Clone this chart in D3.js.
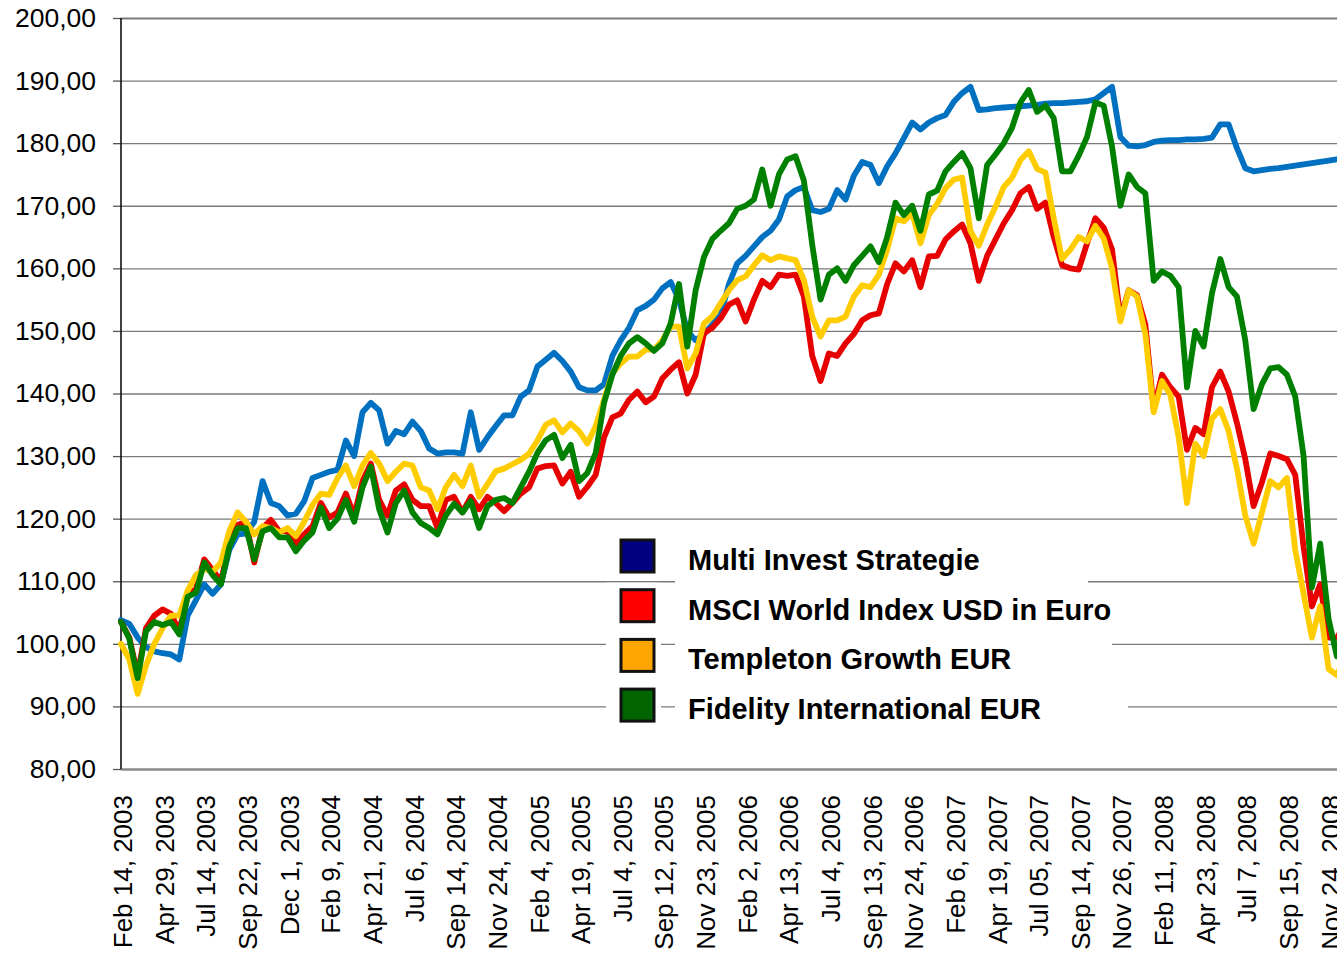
<!DOCTYPE html>
<html><head><meta charset="utf-8">
<script src="https://cdn.jsdelivr.net/npm/d3@7/dist/d3.min.js"></script>
<style>body{margin:0;background:#fff;overflow:hidden}</style>
</head><body>
<svg id="chart" width="1337" height="953"></svg>
<script>
// ---- data ----
const tickLabels = ["Feb 14, 2003","Apr 29, 2003","Jul 14, 2003","Sep 22, 2003","Dec 1, 2003","Feb 9, 2004","Apr 21, 2004","Jul 6, 2004","Sep 14, 2004","Nov 24, 2004","Feb 4, 2005","Apr 19, 2005","Jul 4, 2005","Sep 12, 2005","Nov 23, 2005","Feb 2, 2006","Apr 13, 2006","Jul 4, 2006","Sep 13, 2006","Nov 24, 2006","Feb 6, 2007","Apr 19, 2007","Jul 05, 2007","Sep 14, 2007","Nov 26, 2007","Feb 11, 2008","Apr 23, 2008","Jul 7, 2008","Sep 15, 2008","Nov 24, 2008"];
const periodsPerLabel = 5;
const yTicks = [80,90,100,110,120,130,140,150,160,170,180,190,200];
const seriesNames = ["Multi Invest Strategie","MSCI World Index USD in Euro","Templeton Growth EUR","Fidelity International EUR"];

const multiInvest = [103.8,103.2,101,99.5,98.8,98.5,98.3,97.5,104.5,107,109.5,108,109.5,115,117.5,117.6,119.5,126,122.5,122,120.5,120.8,122.8,126.5,127,127.5,127.8,132.5,130,137,138.5,137.3,132,134,133.5,135.5,134,131.2,130.4,130.6,130.6,130.4,137,131,133,134.8,136.5,136.5,139.5,140.5,144.3,145.4,146.5,145.2,143.5,141,140.5,140.5,141.5,146,148.5,150.5,153.3,154,155,156.8,157.8,155,150,148.5,149.5,151,152.5,157.5,160.8,162,163.5,165,166,167.8,171.5,172.5,173,169.3,169,169.5,172.5,171,174.8,177,176.5,173.6,176.3,178.4,180.8,183.3,182.2,183.3,184,184.5,186.6,188,189,185.3,185.4,185.6,185.7,185.8,185.9,186,186.1,186.3,186.4,186.4,186.5,186.6,186.7,187,188,189,181,179.6,179.5,179.7,180.2,180.4,180.5,180.5,180.6,180.6,180.7,180.9,183,183,179.2,176,175.5,175.7,175.9,176,176.2,176.4,176.6,176.8,177,177.2,177.4,177.5];

const msciWorld = [103.5,101,95,102.5,104.5,105.5,104.8,102,107.8,108.8,113.5,111.8,110,115.8,119,119.5,113,118.5,119.8,118,118,116,117.5,118.8,122.5,120.2,121,124,120.5,126,128.8,123,120.5,124.5,125.5,123,122,122,118.5,123,123.5,121,123.5,121.5,123.5,122.5,121.2,122.5,124,125,128,128.4,128.5,125.6,127.5,123.5,125.1,127,133,136.2,136.8,139,140.3,138.6,139.5,142.4,143.8,145,140,143,149.6,150.5,152,154.2,154.9,151.5,155,158,157,159,158.8,159,155.5,146,142,146.4,146,148,149.5,151.7,152.5,152.8,157.5,160.8,159.5,161.3,157,161.9,162,164.6,165.9,167,164,158,162,164.6,167.2,169.3,172,173,169.5,170.5,165,160.5,160,159.8,164,168,166.5,163,152,156.5,155.7,151,137.5,143,141,139.5,131,134.5,133.5,141,143.5,140.3,135.3,129.5,122,125.8,130.4,130,129.5,127,115.5,106,109.5,101,101,103];

const templeton = [100,97.5,92,96.5,100,102.5,104.5,104.5,108.5,111,112,111.5,113,118,121,119.5,117.5,118.8,118.5,117.8,118.5,117.2,119.5,122.2,124,123.8,126.5,128.5,125.2,128.5,130.5,128.8,126,127.5,128.8,128.5,125,124.5,121.5,125,127,125.2,128.5,123.5,125.5,127.6,128,128.7,129.4,130.4,132.5,135,135.7,133.8,135.2,134,132,134.8,139,143.2,144.8,145.9,145.9,147,147,148.5,150.7,150.7,144,146.4,151.2,152.3,154.4,156.5,158.1,158.7,160.5,162.1,161.3,161.9,161.6,161.3,158.1,152.3,149.1,151.7,151.7,152.3,155.5,157.3,157,159,163,168,167.5,168.8,164,168.5,170.3,172.8,174.2,174.5,166,163.6,167,169.8,173,174.5,177.3,178.7,175.9,175.3,168,161.5,163,165,164.3,166.8,164.8,160,151.5,156.5,155.5,149.5,137,142,139.8,133,122.5,132,130,136,137.5,134,128,120.5,116,121,126,125,126.5,115,108,101,106,96,95,98];

const fidelity = [103.5,100.8,94.5,102,103.5,103,103.5,101.5,107.5,108.2,113,111,109.5,115.5,118.5,118.5,113.5,118,118.5,117,117,114.8,116.5,117.8,121.8,118.5,120,123,119.5,125,128.3,121.5,117.8,122.5,124.5,121,119.3,118.5,117.5,120.5,122.4,121,122.8,118.5,122,123,123.3,122.5,125,127.5,130.5,132.5,133.4,129.7,131.8,126,127.3,130.5,138.5,143,146,148,149,148,146.8,148,151.2,157.5,147.5,156.5,161.8,164.7,166,167.2,169.5,170,171,175.8,170,175,177.4,177.9,174,163.8,155,159,160,158,160.5,162,163.5,161,165,170.5,168.5,170,166,171.8,172.4,175.5,177,178.4,176,168,176.5,178.2,180,182.5,186.5,188.5,185,186,184,175.5,175.5,178,181,186.5,186,179.5,170,175,173,172,158,159.5,158.8,157,141,150,147.5,156,161.5,157,155.5,148.5,137.5,141.5,144,144.2,143,139.5,130,109,116,104,98,106];

const lineColors = ["#0070C0","#E60000","#FFCC00","#008000"];
const swatchColors = ["#000080","#FF0000","#FFA500","#006400"];

// ---- layout ----
const svg = d3.select("#chart");
const plotLeft = 121, plotTop = 18, plotBottom = 769;
const periodPx = 41.64 / periodsPerLabel;
const nPeriods = tickLabels.length * periodsPerLabel;
const xScale = d3.scaleLinear().domain([0, nPeriods]).range([plotLeft, plotLeft + nPeriods * periodPx]);
const yScale = d3.scaleLinear().domain([80, 200]).range([plotBottom, plotTop]);
const fontFam = "'Liberation Sans', Arial, sans-serif";
const loc = d3.formatLocale({decimal: ",", thousands: ".", grouping: [3], currency: ["", " €"]});
const fmt = loc.format(".2f");

// y axis with gridlines
const gridRight = 1400;
const yAxisG = svg.append("g").attr("transform", `translate(${plotLeft},0)`)
  .call(d3.axisLeft(yScale).tickValues(yTicks).tickFormat(fmt).tickSizeInner(8).tickSizeOuter(0).tickPadding(17));
yAxisG.select(".domain").remove();
yAxisG.selectAll(".tick line").attr("stroke", "#555").attr("stroke-width", 1.3);
yAxisG.selectAll(".tick").append("line")
  .attr("x1", 0).attr("x2", gridRight - plotLeft)
  .attr("stroke", d => d === 80 ? "#8a8a8a" : "#7a7a7a")
  .attr("stroke-width", d => d === 80 ? 2.6 : (d === 200 ? 1.8 : 1.3));
yAxisG.selectAll(".tick text").attr("font-family", fontFam).attr("font-size", 26.5).attr("fill", "#000");
svg.append("line").attr("x1", plotLeft).attr("x2", plotLeft).attr("y1", yScale(200)).attr("y2", yScale(80))
  .attr("stroke", "#111").attr("stroke-width", 1.6);

// x axis labels
const xAxisG = svg.append("g").attr("transform", `translate(0,${plotBottom})`)
  .call(d3.axisBottom(xScale).tickValues(d3.range(0, tickLabels.length).map(i => i * periodsPerLabel))
    .tickFormat((d, i) => tickLabels[i]).tickSize(0));
xAxisG.select(".domain").remove();
xAxisG.selectAll(".tick text")
  .attr("font-family", fontFam).attr("font-size", 26).attr("fill", "#000")
  .attr("text-anchor", "end")
  .attr("transform", "translate(1.5,26) rotate(-90)")
  .attr("x", 0).attr("y", 0).attr("dy", "0.35em");

// lines
const allSeries = [multiInvest, msciWorld, templeton, fidelity];
const lineGen = d3.line().x((d, i) => xScale(i)).y(d => yScale(d));
allSeries.forEach((s, i) => {
  svg.append("path").datum(s).attr("d", lineGen)
    .attr("fill", "none").attr("stroke", lineColors[i]).attr("stroke-width", 5.8)
    .attr("stroke-linejoin", "round").attr("stroke-linecap", "round");
});

// legend
const legendBaseline0 = 570, legendPitch = 49.7;
const textBoxRight = [1088, 1115, 1112, 1128];
const lg = svg.append("g");
seriesNames.forEach((name, i) => {
  const b = legendBaseline0 + i * legendPitch;
  lg.append("rect").attr("x", 675).attr("y", b - 35).attr("width", textBoxRight[i] - 675).attr("height", 49.7).attr("fill", "#fff");
  lg.append("rect").attr("x", 606).attr("y", b - 37).attr("width", 55).attr("height", 46).attr("fill", "#fff");
  lg.append("rect").attr("x", 621).attr("y", b - 30).attr("width", 33).attr("height", 32)
    .attr("fill", swatchColors[i]).attr("stroke", "#111").attr("stroke-width", 3);
  lg.append("text").attr("x", 688).attr("y", b).text(name)
    .attr("font-family", fontFam).attr("font-size", 29).attr("font-weight", "bold").attr("fill", "#000");
});
</script>
</body></html>
